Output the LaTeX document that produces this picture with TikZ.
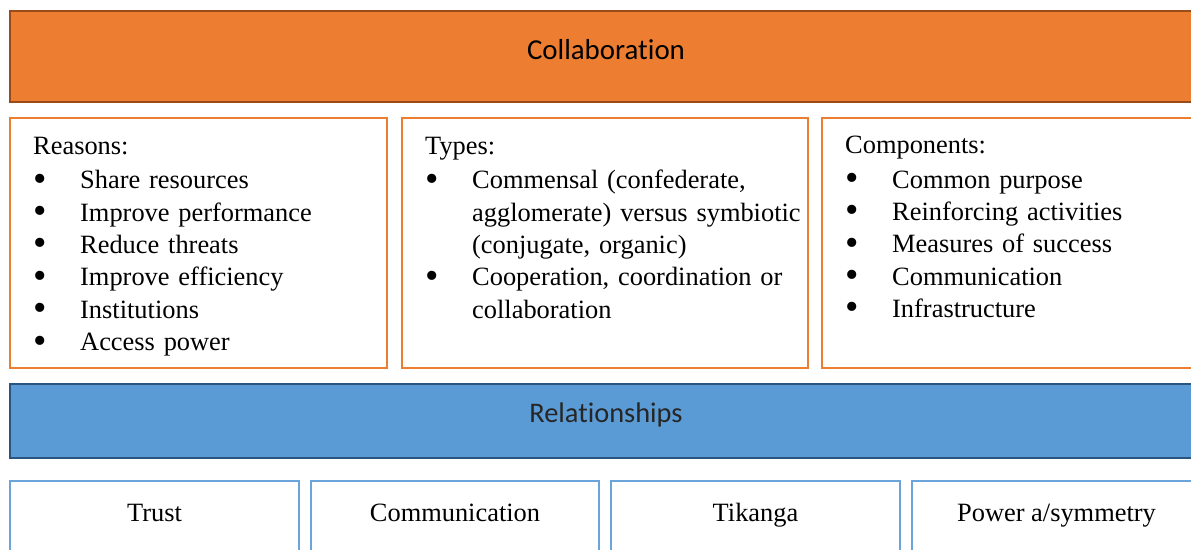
\documentclass[tikz,border=0pt]{standalone}
\usepackage{fontspec}
\setmainfont{Liberation Serif}
\newfontfamily\calib[Ligatures=NoCommon]{Carlito}
\definecolor{orfill}{HTML}{ED7D31}
\definecolor{orline}{HTML}{9A4B17}
\definecolor{blfill}{HTML}{5B9BD5}
\definecolor{blline}{HTML}{2A5580}
\definecolor{bllight}{HTML}{6AA4DA}
\newcommand\bul{\smash{\raisebox{-0.09em}{\scalebox{1.45}{\textbullet}}}}
\newcommand\itm[1]{\par\noindent\hangindent=47bp\hangafter=1\makebox[47bp][l]{\bul}#1\par}
\tikzset{
  bar/.style={draw, line width=2.8bp, minimum height=#1, inner sep=0},
  obox/.style={draw=orfill, line width=2.4bp, fill=white, inner sep=0},
  bbox/.style={draw=bllight, line width=2.4bp, fill=white, inner sep=0},
  listtext/.style={anchor=north west, inner sep=0, text width=390bp, align=left,
     font=\fontsize{26.5}{32.5}\selectfont},
  lbl/.style={font=\fontsize{26.5}{32}\selectfont, inner sep=0, anchor=base}
}
\begin{document}
\begin{tikzpicture}[x=1bp,y=-1bp]
\useasboundingbox (0,0) rectangle (1191,550);
\begin{scope}
\clip (0,0) rectangle (1191,550);
% top bar
\node[bar=91bp, draw=orline, fill=orfill, minimum width=1192bp] (collab) at (606,56.5) {};
\node[font=\calib\fontsize{29}{34}\selectfont, inner sep=0] (collabt) at (606,50) {Collaboration};
% orange boxes
\node[obox, minimum width=377bp, minimum height=250bp] (reasons) at (198.5,243) {};
\node[obox, minimum width=406bp, minimum height=250bp] (types) at (605,243) {};
\node[obox, minimum width=400bp, minimum height=250bp] (comps) at (1022,243) {};
\node[listtext] (reasonst) at (33,137) {Reasons:\par\vspace{2bp}
\itm{Share resources}
\itm{Improve performance}
\itm{Reduce threats}
\itm{Improve efficiency}
\itm{Institutions}
\itm{Access power}};
\node[listtext] (typest) at (425,137) {Types:\par\vspace{2bp}
\itm{Commensal (confederate,\newline agglomerate) versus symbiotic\newline (conjugate, organic)}
\itm{Cooperation, coordination or\newline collaboration}};
\node[listtext] (compst) at (845,136) {Components:\par\vspace{2bp}
\itm{Common purpose}
\itm{Reinforcing activities}
\itm{Measures of success}
\itm{Communication}
\itm{Infrastructure}};
% blue bar
\node[bar=74bp, draw=blline, fill=blfill, minimum width=1192bp] (rel) at (606,421) {};
\node[font=\calib\fontsize{28.5}{32}\selectfont, text=black!85, inner sep=0] (relt) at (606,415) {Relationships};
% bottom boxes
\node[bbox, minimum width=289bp, minimum height=120bp] (trust) at (154.5,541) {};
\node[bbox, minimum width=288bp, minimum height=120bp] (comm) at (455,541) {};
\node[bbox, minimum width=289bp, minimum height=120bp] (tik) at (755.5,541) {};
\node[bbox, minimum width=289bp, minimum height=120bp] (pow) at (1056.5,541) {};
\node[lbl] (trustt) at (154.5,521) {Trust};
\node[lbl] (commt) at (455,521) {Communication};
\node[lbl] (tikt) at (755.5,521) {Tikanga};
\node[lbl] (powt) at (1056.5,521) {Power a/symmetry};
\end{scope}
\end{tikzpicture}
\end{document}
